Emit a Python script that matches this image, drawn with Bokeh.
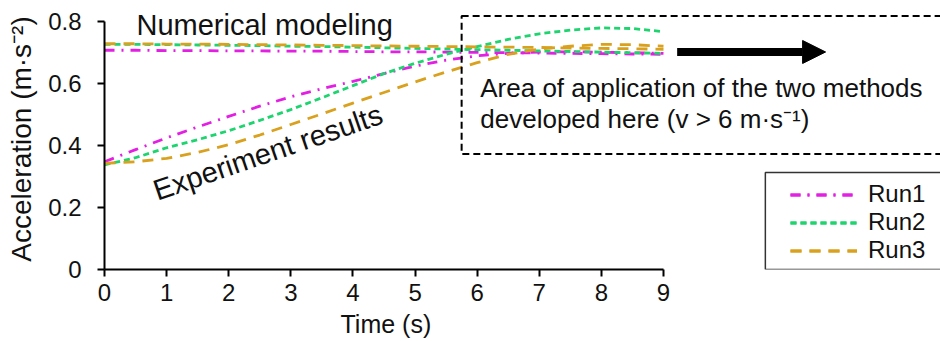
import math
from bokeh.plotting import figure
from bokeh.models import (Range1d, FixedTicker, CustomJSTickFormatter, Label, Arrow,
                          NormalHead, BoxAnnotation, Legend, LegendItem, Title)
from bokeh.embed import file_html
from bokeh.resources import INLINE

# ---------------- data ----------------
time_s = [0, 0.5, 1, 1.5, 2, 2.5, 3, 3.5, 4, 4.5, 5, 5.5, 6, 6.5, 7, 7.5, 8, 8.5, 9]

run1_experiment = [0.347, 0.386, 0.424, 0.459, 0.493, 0.526, 0.556, 0.582, 0.606, 0.631,
                   0.655, 0.674, 0.688, 0.696, 0.700, 0.701, 0.700, 0.698, 0.696]
run2_experiment = [0.337, 0.360, 0.392, 0.418, 0.447, 0.480, 0.515, 0.553, 0.592, 0.631,
                   0.664, 0.693, 0.718, 0.741, 0.759, 0.771, 0.778, 0.776, 0.766]
run3_experiment = [0.342, 0.347, 0.358, 0.377, 0.402, 0.433, 0.467, 0.501, 0.536, 0.570,
                   0.604, 0.636, 0.666, 0.693, 0.710, 0.719, 0.725, 0.724, 0.719]

run1_numerical = [0.706, 0.706, 0.705, 0.705, 0.704, 0.704, 0.703, 0.703, 0.702, 0.701,
                  0.701, 0.700, 0.699, 0.698, 0.697, 0.696, 0.695, 0.694, 0.693]
run2_numerical = [0.725, 0.725, 0.724, 0.723, 0.722, 0.721, 0.719, 0.718, 0.716, 0.714,
                  0.712, 0.710, 0.708, 0.706, 0.704, 0.702, 0.700, 0.698, 0.696]
run3_numerical = [0.727, 0.727, 0.726, 0.726, 0.725, 0.724, 0.723, 0.722, 0.721, 0.720,
                  0.719, 0.718, 0.717, 0.716, 0.715, 0.713, 0.712, 0.711, 0.709]

run_names = ["Run1", "Run2", "Run3"]
x_ticks = [0, 1, 2, 3, 4, 5, 6, 7, 8, 9]
y_ticks = [0, 0.2, 0.4, 0.6, 0.8]

# ---------------- styling ----------------
FONT = "Liberation Sans"
TXT = "#111111"
colors = ["#E21FE2", "#1DD46F", "#D9A11E"]
dashes = ["10 7 2 7", "6 4", "11 8"]

p = figure(width=940, height=341, output_backend="svg", toolbar_location=None,
           x_range=Range1d(0, 13.46), y_range=Range1d(0, 0.8405),
           min_border_left=104, min_border_right=0, min_border_top=8, min_border_bottom=71)
p.outline_line_color = None
p.grid.visible = False
p.background_fill_color = "white"
p.border_fill_color = "white"

for ax in (p.xaxis[0], p.yaxis[0]):
    ax.axis_line_width = 2
    ax.axis_line_color = "black"
    ax.major_tick_line_width = 2
    ax.major_tick_line_color = "black"
    ax.major_tick_out = 7
    ax.major_tick_in = 0
    ax.minor_tick_line_color = None
    ax.major_label_text_font = FONT
    ax.major_label_text_font_size = "24px"
    ax.major_label_text_color = TXT
    ax.axis_label_text_font = FONT
    ax.axis_label_text_font_style = "normal"
    ax.axis_label_text_color = TXT

xa = p.xaxis[0]
xa.ticker = FixedTicker(ticks=x_ticks)
xa.bounds = (0, 9)
xa.major_label_standoff = 7

ya = p.yaxis[0]
ya.ticker = FixedTicker(ticks=y_ticks)
ya.bounds = (0, 0.8)
ya.major_label_standoff = 16
ya.formatter = CustomJSTickFormatter(code="return tick == 0 ? '0' : tick.toFixed(1);")
ya.axis_label = "Acceleration (m\u00b7s\u207b\u00b2)"
ya.axis_label_text_font_size = "28px"
ya.axis_label_standoff = 8

# x-axis title placed under the 0-9 axis span
p.add_layout(Title(text="Time (s)", align="left", offset=236, standoff=8,
                   text_line_height=0.8,
                   text_font=FONT, text_font_size="25px", text_font_style="normal",
                   text_color=TXT), "below")

exp_series = [run1_experiment, run2_experiment, run3_experiment]
num_series = [run1_numerical, run2_numerical, run3_numerical]
items = []
for name, c, d, ye, yn in zip(run_names, colors, dashes, exp_series, num_series):
    rn = p.line(time_s, yn, line_color=c, line_width=2.8, line_dash=d)
    re_ = p.line(time_s, ye, line_color=c, line_width=2.8, line_dash=d)
    items.append(LegendItem(label=name, renderers=[re_, rn]))

legend = Legend(items=items, location=(678, -3), padding=8, margin=0, spacing=0,
                glyph_width=67, glyph_height=27, label_height=27, label_standoff=11,
                label_text_font=FONT, label_text_font_size="24px", label_text_color=TXT,
                border_line_alpha=0, background_fill_alpha=0)
p.add_layout(legend)

# legend frame
p.add_layout(BoxAnnotation(left=10.64, right=14, bottom=0, top=0.312,
                           fill_color=None, fill_alpha=0, line_color="#333333",
                           line_alpha=1, line_width=1.5))

# dashed region box
p.add_layout(BoxAnnotation(left=5.75, right=14, bottom=0.372, top=0.816,
                           fill_color=None, fill_alpha=0, line_color="black",
                           line_alpha=1, line_width=2, line_dash="7 4"))

# arrow
p.add_layout(Arrow(x_start=9.22, y_start=0.7005, x_end=11.61, y_end=0.7005,
                   line_width=8, line_color="black",
                   end=NormalHead(size=23, fill_color="black", line_color="black", line_width=1)))

def lab(**kw):
    kw.setdefault("text_font", FONT)
    kw.setdefault("text_color", TXT)
    p.add_layout(Label(**kw))

lab(x=0.515, y=0.788, text="Numerical modeling", text_font_size="29px",
    text_align="left", text_baseline="alphabetic")
lab(x=0.80, y=0.252, text="Experiment results", text_font_size="29px",
    text_align="left", text_baseline="alphabetic", angle=0.33)
lab(x=6.05, y=0.586, text="Area of application of the two methods", text_font_size="26px",
    text_align="left", text_baseline="alphabetic")
lab(x=6.05, y=0.486, text="developed here (v > 6 m\u00b7s\u207b\u00b9)", text_font_size="26px",
    text_align="left", text_baseline="alphabetic")

open("out.html", "w").write(file_html(p, INLINE))
